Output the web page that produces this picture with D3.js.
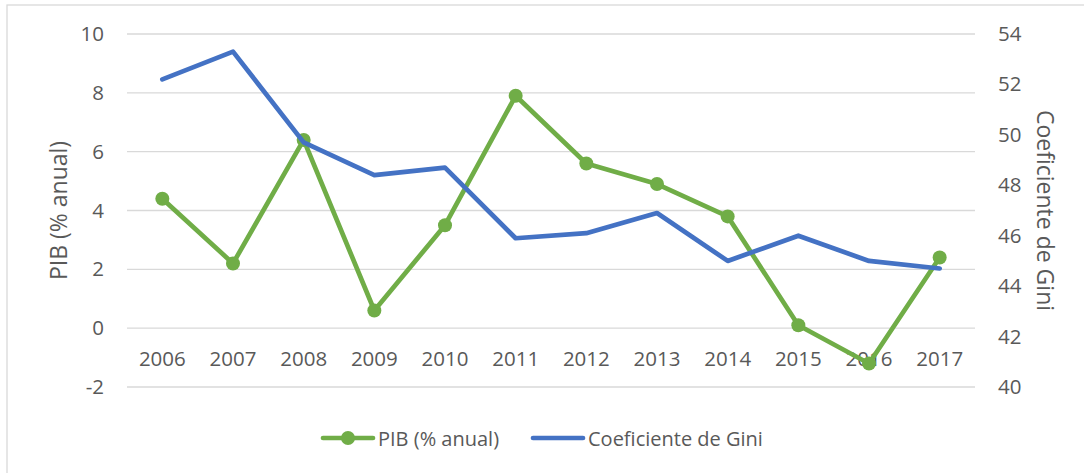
<!DOCTYPE html>
<html>
<head>
<meta charset="utf-8">
<script src="https://cdn.jsdelivr.net/npm/d3@7"></script>
<style>
  body { margin: 0; background: #fff; }
  text { font-family: "Open Sans", sans-serif; fill: #595959; }
</style>
</head>
<body>
<div id="chart"></div>
<script>
const years = ["2006", "2007", "2008", "2009", "2010", "2011", "2012", "2013", "2014", "2015", "2016", "2017"];
const pib = [4.4, 2.2, 6.4, 0.6, 3.5, 7.9, 5.6, 4.9, 3.8, 0.1, -1.2, 2.4];
const gini = [52.2, 53.3, 49.7, 48.4, 48.7, 45.9, 46.1, 46.9, 45.0, 46.0, 45.0, 44.7];
const leftTicks = [-2, 0, 2, 4, 6, 8, 10];
const rightTicks = [40, 42, 44, 46, 48, 50, 52, 54];
const seriesNames = ["PIB (% anual)", "Coeficiente de Gini"];

let width = 1084,
  height = 473,
  plotLeft = 127,
  plotRight = 975,
  plotTop = 34,
  plotBottom = 387;

let green = "#70ad47",
  blue = "#4472c4";

let svg = d3
  .select("#chart")
  .append("svg")
  .attr("width", width)
  .attr("height", height);

// chart border
svg
  .append("rect")
  .attr("x", 7)
  .attr("y", 5)
  .attr("width", 1090)
  .attr("height", 480)
  .attr("fill", "none")
  .attr("stroke", "#d9d9d9")
  .attr("stroke-width", 1.3);

let xScale = d3.scaleBand().domain(years).range([plotLeft, plotRight]);
let yLeft = d3.scaleLinear().domain([-2, 10]).range([plotBottom, plotTop]);
let yRight = d3.scaleLinear().domain([40, 54]).range([plotBottom, plotTop]);

// gridlines
svg
  .append("g")
  .selectAll("line")
  .data(leftTicks)
  .enter()
  .append("line")
  .attr("x1", plotLeft)
  .attr("x2", plotRight)
  .attr("y1", (d) => yLeft(d))
  .attr("y2", (d) => yLeft(d))
  .attr("stroke", "#d9d9d9")
  .attr("stroke-width", 1.3);

// plain hyphen for negatives, like the original
let plain = (d) => String(d);

// left axis
let leftAxis = d3.axisLeft(yLeft).tickValues(leftTicks).tickFormat(plain).tickSize(0).tickPadding(23);
svg
  .append("g")
  .attr("transform", "translate(" + plotLeft + ",0)")
  .call(leftAxis)
  .call((g) => g.select(".domain").remove())
  .selectAll("text")
  .style("font-family", "Open Sans")
  .style("font-size", "20.5px")
  .attr("fill", "#595959");

// right axis
let rightAxis = d3.axisRight(yRight).tickValues(rightTicks).tickFormat(plain).tickSize(0).tickPadding(23);
svg
  .append("g")
  .attr("transform", "translate(" + plotRight + ",0)")
  .call(rightAxis)
  .call((g) => g.select(".domain").remove())
  .selectAll("text")
  .style("font-family", "Open Sans")
  .style("font-size", "20.5px")
  .attr("fill", "#595959");

// category labels sit under the zero line
let xAxis = d3.axisBottom(xScale).tickSize(0).tickPadding(23);
svg
  .append("g")
  .attr("transform", "translate(0," + yLeft(0) + ")")
  .call(xAxis)
  .call((g) => g.select(".domain").remove())
  .selectAll("text")
  .style("font-family", "Open Sans")
  .style("font-size", "20.5px")
  .attr("fill", "#595959");

// axis titles
svg
  .append("text")
  .attr("transform", "translate(58," + (plotTop + plotBottom) / 2 + ") rotate(-90)")
  .attr("text-anchor", "middle")
  .attr("dominant-baseline", "central")
  .style("font-size", "23px")
  .text(seriesNames[0]);

svg
  .append("text")
  .attr("transform", "translate(1046," + (plotTop + plotBottom) / 2 + ") rotate(90)")
  .attr("text-anchor", "middle")
  .attr("dominant-baseline", "central")
  .style("font-size", "23px")
  .text(seriesNames[1]);

let cx = (d, i) => xScale(years[i]) + xScale.bandwidth() / 2;

// PIB line with markers
let pibLine = d3
  .line()
  .x((d, i) => cx(d, i))
  .y((d) => yLeft(d));

svg
  .append("path")
  .datum(pib)
  .attr("d", pibLine)
  .attr("fill", "none")
  .attr("stroke", green)
  .attr("stroke-width", 4.7)
  .attr("stroke-linejoin", "round")
  .attr("stroke-linecap", "round");

svg
  .append("g")
  .selectAll("circle")
  .data(pib)
  .enter()
  .append("circle")
  .attr("cx", (d, i) => cx(d, i))
  .attr("cy", (d) => yLeft(d))
  .attr("r", 7)
  .attr("fill", green);

// Gini line on the secondary axis
let giniLine = d3
  .line()
  .x((d, i) => cx(d, i))
  .y((d) => yRight(d));

svg
  .append("path")
  .datum(gini)
  .attr("d", giniLine)
  .attr("fill", "none")
  .attr("stroke", blue)
  .attr("stroke-width", 4.7)
  .attr("stroke-linejoin", "round")
  .attr("stroke-linecap", "round");

// legend
let legendY = 438;
let legend = svg.append("g");

legend
  .append("line")
  .attr("x1", 323)
  .attr("x2", 373)
  .attr("y1", legendY)
  .attr("y2", legendY)
  .attr("stroke", green)
  .attr("stroke-width", 4.7)
  .attr("stroke-linecap", "round");
legend
  .append("circle")
  .attr("cx", 348)
  .attr("cy", legendY)
  .attr("r", 7)
  .attr("fill", green);
legend
  .append("text")
  .attr("x", 378)
  .attr("y", legendY)
  .attr("dominant-baseline", "central")
  .style("font-size", "20px")
  .text(seriesNames[0]);

legend
  .append("line")
  .attr("x1", 533)
  .attr("x2", 583)
  .attr("y1", legendY)
  .attr("y2", legendY)
  .attr("stroke", blue)
  .attr("stroke-width", 4.7)
  .attr("stroke-linecap", "round");
legend
  .append("text")
  .attr("x", 588)
  .attr("y", legendY)
  .attr("dominant-baseline", "central")
  .style("font-size", "20px")
  .text(seriesNames[1]);
</script>
</body>
</html>
